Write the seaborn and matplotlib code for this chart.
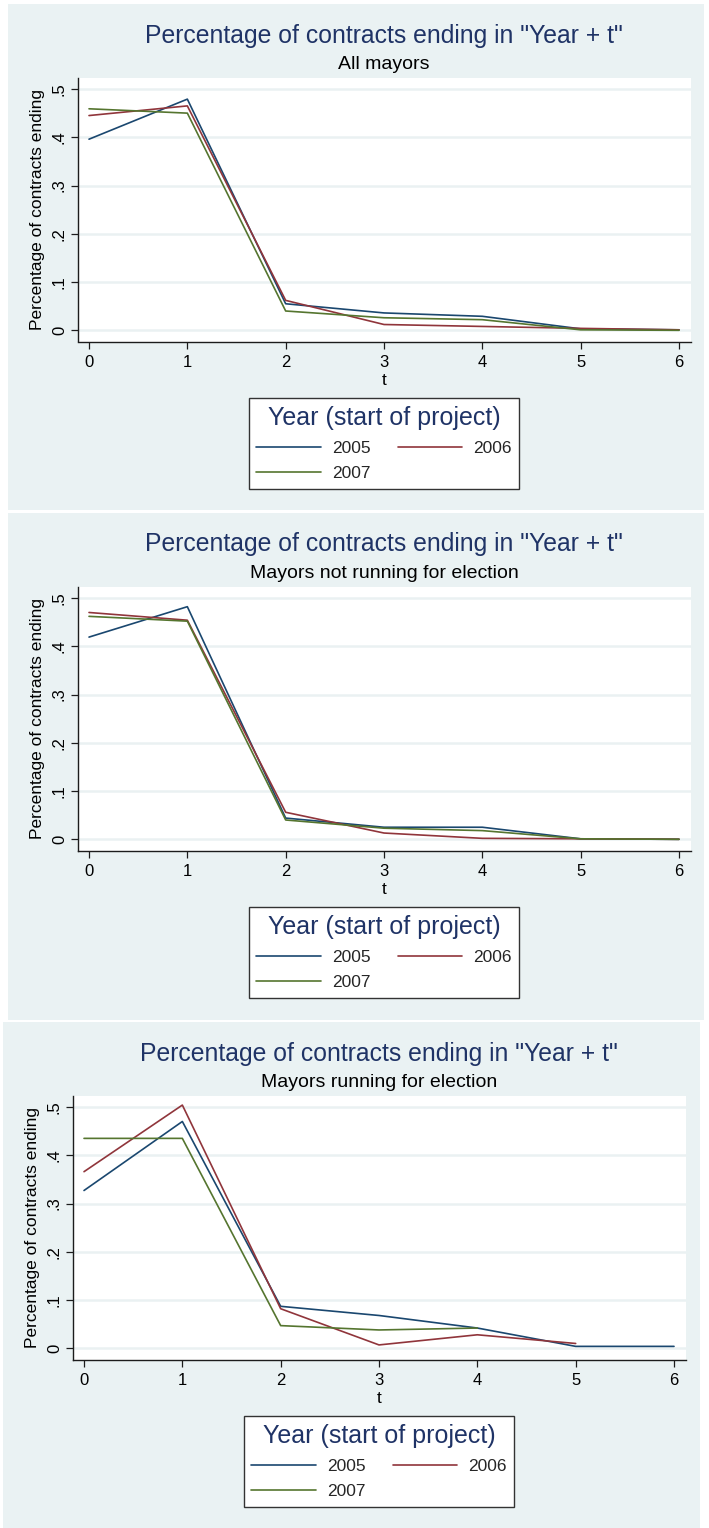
import matplotlib
matplotlib.use("Agg")
import matplotlib.pyplot as plt
from matplotlib.patches import Rectangle
import pandas as pd
import seaborn as sns

# ---- data -------------------------------------------------------------
t_values = [0, 1, 2, 3, 4, 5, 6]
years = ["2005", "2006", "2007"]

# All mayors
all_2005 = [0.396, 0.479, 0.055, 0.036, 0.029, 0.003, 0.001]
all_2006 = [0.445, 0.465, 0.062, 0.012, 0.008, 0.004, 0.001]
all_2007 = [0.459, 0.450, 0.040, 0.026, 0.022, 0.001, 0.000]

# Mayors not running for election
notrun_2005 = [0.419, 0.482, 0.044, 0.025, 0.025, 0.001, 0.000]
notrun_2006 = [0.470, 0.454, 0.056, 0.013, 0.002, 0.001, 0.000]
notrun_2007 = [0.462, 0.452, 0.040, 0.023, 0.018, 0.001, 0.000]

# Mayors running for election (2006 ends at t=5, 2007 at t=4)
run_2005 = [0.327, 0.470, 0.087, 0.068, 0.042, 0.004, 0.004]
run_2006 = [0.366, 0.504, 0.082, 0.007, 0.028, 0.010, None]
run_2007 = [0.435, 0.435, 0.047, 0.038, 0.042, None, None]

main_title = 'Percentage of contracts ending in "Year + t"'
subtitles = ["All mayors", "Mayors not running for election",
             "Mayors running for election"]
y_axis_title = "Percentage of contracts ending"
x_axis_title = "t"
legend_title = "Year (start of project)"
y_ticks = [0.0, 0.1, 0.2, 0.3, 0.4, 0.5]
y_tick_labels = ["0", ".1", ".2", ".3", ".4", ".5"]

panel_series = [
    [all_2005, all_2006, all_2007],
    [notrun_2005, notrun_2006, notrun_2007],
    [run_2005, run_2006, run_2007],
]

# ---- style ------------------------------------------------------------
sns.set_theme(style="white")
plt.rcParams["font.family"] = ["Liberation Sans", "DejaVu Sans"]

NAVY = "#1a476f"
MAROON = "#90353b"
GREEN = "#55752f"
TITLE_BLUE = "#1f3366"
BG = "#eaf2f3"
GRID = "#eaf1f2"
AXIS = "#1c1c1c"
palette = dict(zip(years, [NAVY, MAROON, GREEN]))

W, H = 709, 1528
fig = plt.figure(figsize=(W / 100, H / 100), dpi=100)
fig.patch.set_facecolor("white")


def fx(px):
    return px / W


def fy(py):
    return 1 - py / H


# (left, top, width, height) of each graph region in pixels
panels = [(8, 4, 696, 506), (8, 513, 696, 507), (3, 1022, 697, 506)]

for (left, top, width, height), series, subtitle in zip(panels, panel_series, subtitles):
    fig.add_artist(Rectangle((fx(left), fy(top + height)), width / W, height / H,
                             transform=fig.transFigure, facecolor=BG,
                             edgecolor="none", zorder=0))

    ax = fig.add_axes([fx(left + 70), fy(top + 337.5), 613 / W, 263.5 / H])
    ax.set_facecolor("white")

    rows = []
    for year, values in zip(years, series):
        for t, v in zip(t_values, values):
            if v is not None:
                rows.append({"t": t, "share": v, "year": year})
    df = pd.DataFrame(rows)

    sns.lineplot(data=df, x="t", y="share", hue="year", hue_order=years,
                 palette=palette, estimator=None, errorbar=None,
                 linewidth=1.2, legend=False, ax=ax)

    ax.set_xlim(-0.112, 6.122)
    ax.set_ylim(-0.0232, 0.5228)
    ax.set_xticks(t_values)
    ax.set_xticklabels([str(t) for t in t_values], fontsize=12)
    ax.set_yticks(y_ticks)
    ax.set_yticklabels(y_tick_labels, fontsize=12, rotation=90, va="center")

    ax.grid(axis="y", color=GRID, linewidth=1.8)
    ax.grid(axis="x", visible=False)
    ax.set_axisbelow(True)

    for side in ("top", "right"):
        ax.spines[side].set_visible(False)
    for side in ("left", "bottom"):
        ax.spines[side].set_color(AXIS)
        ax.spines[side].set_linewidth(1.0)

    ax.tick_params(axis="both", which="major", direction="out", length=5,
                   width=0.9, color=AXIS, labelcolor="black", pad=3,
                   left=True, bottom=True)
    ax.tick_params(axis="x", pad=5)

    ax.set_xlabel(x_axis_title, fontsize=12.5, labelpad=2, color="black")
    ax.set_ylabel(y_axis_title, fontsize=12.5, labelpad=5, color="black")

    cx = left + 376
    fig.text(fx(cx), fy(top + 38.5), main_title, ha="center", va="baseline",
             fontsize=17.8, color=TITLE_BLUE)
    fig.text(fx(cx), fy(top + 65), subtitle, ha="center", va="baseline",
             fontsize=14, color="black")

    # two-column legend filled row by row: 2005, 2006 / 2007
    lines = ax.get_lines()[:3]
    handles = [lines[0], lines[2], lines[1]]
    labels = [years[0], years[2], years[1]]
    leg = ax.legend(handles, labels, title=legend_title, ncol=2,
                    loc="upper center",
                    bbox_to_anchor=(fx(cx), fy(top + 394)),
                    bbox_transform=fig.transFigure,
                    fontsize=12.5, title_fontsize=18,
                    frameon=True, fancybox=False, shadow=False,
                    framealpha=1, facecolor="white", edgecolor="#333333",
                    borderpad=0.45, handlelength=3.7, handletextpad=0.65,
                    columnspacing=1.55, labelspacing=0.55, borderaxespad=0)
    leg.get_frame().set_linewidth(1.0)
    leg.get_title().set_color(TITLE_BLUE)
    leg._legend_box.sep = 8

fig.savefig("out.png", dpi=100, facecolor="white")
